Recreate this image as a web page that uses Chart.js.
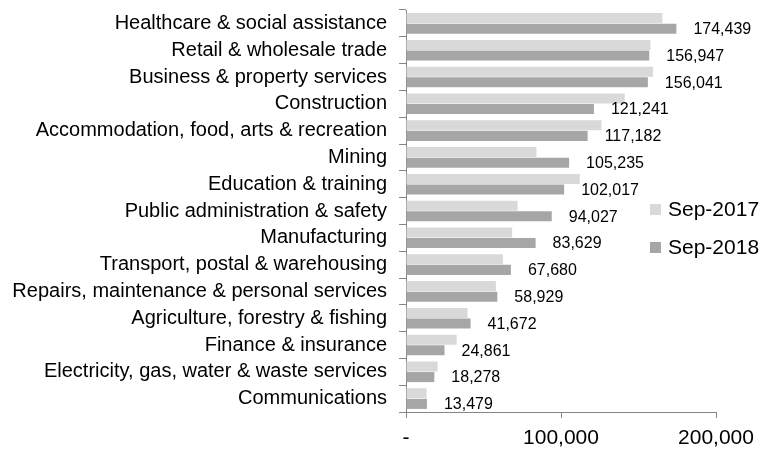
<!DOCTYPE html>
<html>
<head>
<meta charset="utf-8">
<script src="https://cdn.jsdelivr.net/npm/chart.js@4"></script>
<style>
    html, body { margin: 0; padding: 0; background: #fff; }
</style>
</head>
<body>
<canvas id="chart-0" width="765" height="450"></canvas>
<script>
var categories = [
    'Healthcare & social assistance',
    'Retail & wholesale trade',
    'Business & property services',
    'Construction',
    'Accommodation, food, arts & recreation',
    'Mining',
    'Education & training',
    'Public administration & safety',
    'Manufacturing',
    'Transport, postal & warehousing',
    'Repairs, maintenance & personal services',
    'Agriculture, forestry & fishing',
    'Finance & insurance',
    'Electricity, gas, water & waste services',
    'Communications'
];

// no labels in the picture for this one
var sep2017 = [165400, 157700, 159400, 141100, 126100, 84200, 112100, 72000, 68500, 62500, 58000, 39700, 32700, 20400, 13300];

var sep2018 = [174439, 156947, 156041, 121241, 117182, 105235, 102017, 94027, 83629, 67680, 58929, 41672, 24861, 18278, 13479];

var xTicks = [0, 100000, 200000];

var fontFamily = '"Liberation Sans", Arial, sans-serif';
var axisColor = '#868686';

function fmt(v) {
    return v === 0 ? '-' : v.toLocaleString('en-US');
}

// value labels next to the Sep-2018 bars
var barValues = {
    id: 'barValues',
    afterDatasetsDraw: function (chart) {
        var ctx = chart.ctx;
        var meta = chart.getDatasetMeta(1);
        ctx.save();
        ctx.font = '16px ' + fontFamily;
        ctx.fillStyle = '#000';
        ctx.textAlign = 'left';
        ctx.textBaseline = 'middle';
        meta.data.forEach(function (bar, i) {
            ctx.fillText(fmt(sep2018[i]), bar.x + 17, bar.y + 1);
        });
        ctx.restore();
    }
};

// legend sits over the empty right side of the plot
var sideLegend = {
    id: 'sideLegend',
    afterDraw: function (chart) {
        var ctx = chart.ctx;
        var rows = [209, 247];
        ctx.save();
        ctx.font = '21px ' + fontFamily;
        ctx.textAlign = 'left';
        ctx.textBaseline = 'middle';
        chart.data.datasets.forEach(function (ds, i) {
            ctx.fillStyle = ds.backgroundColor;
            ctx.fillRect(650, rows[i] - 5, 11, 11);
            ctx.fillStyle = '#000';
            ctx.fillText(ds.label, 668, rows[i] + 1);
        });
        ctx.restore();
    }
};

new Chart('chart-0', {
    type: 'bar',
    data: {
        labels: categories,
        datasets: [{
            label: 'Sep-2017',
            data: sep2017,
            backgroundColor: '#d9d9d9',
            categoryPercentage: 0.79,
            barPercentage: 0.95
        }, {
            label: 'Sep-2018',
            data: sep2018,
            backgroundColor: '#a6a6a6',
            categoryPercentage: 0.79,
            barPercentage: 0.95
        }]
    },
    plugins: [barValues, sideLegend],
    options: {
        indexAxis: 'y',
        responsive: false,
        animation: false,
        layout: {
            padding: { top: 10, right: 49, bottom: 0, left: 0 }
        },
        plugins: {
            legend: { display: false },
            tooltip: { enabled: false }
        },
        scales: {
            y: {
                grid: {
                    drawOnChartArea: false,
                    tickLength: 7,
                    color: axisColor,
                    offset: true
                },
                border: { color: axisColor },
                ticks: {
                    color: '#000',
                    padding: 12,
                    autoSkip: false,
                    font: { family: fontFamily, size: 20 }
                },
                afterFit: function (scale) {
                    scale.width = 406;
                    scale.paddingTop = 0;
                    scale.paddingBottom = 0;
                }
            },
            x: {
                min: 0,
                max: 200000,
                grid: {
                    drawOnChartArea: false,
                    tickLength: 6,
                    color: axisColor
                },
                border: { color: axisColor },
                afterBuildTicks: function (scale) {
                    scale.ticks = xTicks.map(function (v) { return { value: v }; });
                },
                ticks: {
                    color: '#000',
                    padding: 8,
                    maxRotation: 0,
                    font: { family: fontFamily, size: 21 },
                    callback: function (v) { return fmt(v); }
                },
                afterFit: function (scale) {
                    scale.height = 38;
                }
            }
        }
    }
});
</script>
</body>
</html>
